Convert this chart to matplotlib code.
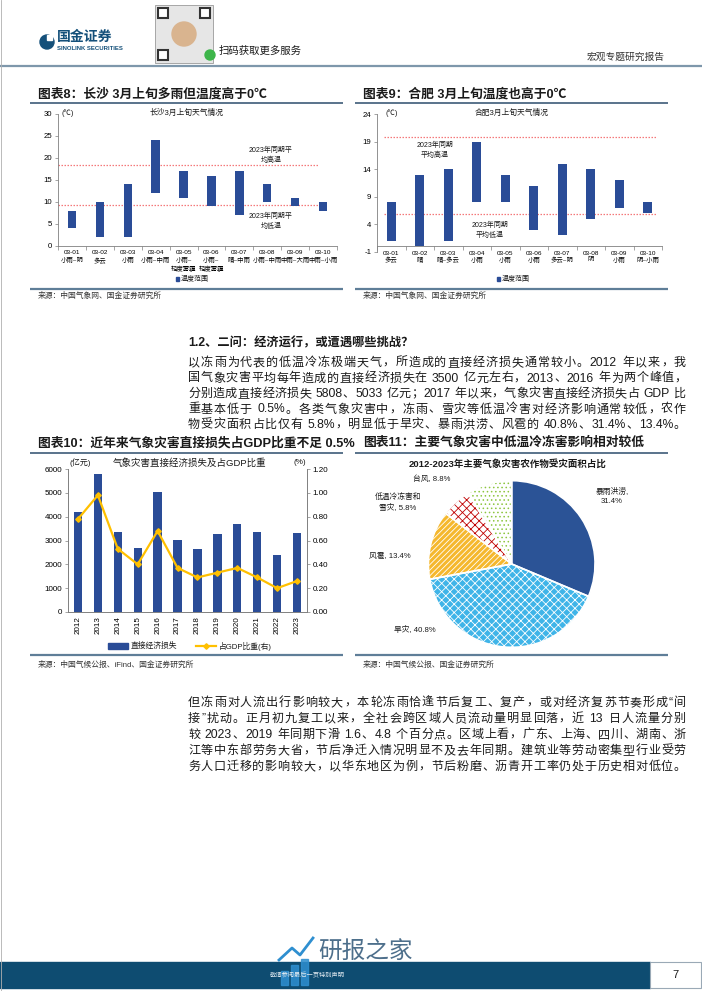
import re
import numpy as np
import matplotlib
matplotlib.use('Agg')
import matplotlib.pyplot as plt
from matplotlib.patches import Rectangle, Circle

plt.rcParams['font.family'] = ['Liberation Sans', 'Noto Sans CJK SC']
plt.rcParams['hatch.linewidth'] = 0.6
plt.rcParams['axes.unicode_minus'] = False

# ---------------- 数据 ----------------
dates = ['03-01', '03-02', '03-03', '03-04', '03-05', '03-06', '03-07', '03-08', '03-09', '03-10']

cs_weather = ['小雨~阴', '多云', '小雨', '小雨~中雨', '小雨~\n轻度雾霾', '小雨~\n轻度雾霾',
              '晴~中雨', '小雨~中雨', '中雨~大雨', '中雨~小雨']
cs_low = [4, 2, 2, 12, 11, 9, 7, 10, 9, 8]
cs_high = [8, 10, 14, 24, 17, 16, 17, 14, 11, 10]
cs_avg_high = 18.4
cs_avg_low = 9.3

hf_weather = ['多云', '晴', '晴~多云', '小雨', '小雨', '小雨', '多云~阴', '阴', '小雨', '阴~小雨']
hf_low = [1, 0, 1, 8, 8, 3, 2, 5, 7, 6]
hf_high = [8, 13, 14, 19, 13, 11, 15, 14, 12, 8]
hf_avg_high = 19.9
hf_avg_low = 5.8

years = ['2012', '2013', '2014', '2015', '2016', '2017', '2018', '2019', '2020', '2021', '2022', '2023']
loss = [4185, 5808, 3374, 2700, 5033, 3020, 2645, 3270, 3700, 3340, 2380, 3300]
gdp_ratio = [0.78, 0.98, 0.53, 0.40, 0.68, 0.37, 0.29, 0.33, 0.37, 0.29, 0.20, 0.26]

pie_names = ['暴雨洪涝', '旱灾', '风雹', '低温冷冻害和雪灾', '台风']
pie_share = [31.4, 40.8, 13.4, 5.8, 8.8]

para1 = [
    '以冻雨为代表的低温冷冻极端天气，所造成的直接经济损失通常较小。2012 年以来，我',
    '国气象灾害平均每年造成的直接经济损失在 3500 亿元左右，2013、2016 年为两个峰值，',
    '分别造成直接经济损失 5808、5033 亿元；2017 年以来，气象灾害直接经济损失占 GDP 比',
    '重基本低于 0.5%。各类气象灾害中，冻雨、雪灾等低温冷害对经济影响通常较低，农作',
    '物受灾面积占比仅有 5.8%，明显低于旱灾、暴雨洪涝、风雹的 40.8%、31.4%、13.4%。',
]
para2 = [
    '但冻雨对人流出行影响较大，本轮冻雨恰逢节后复工、复产，或对经济复苏节奏形成“间',
    '接”扰动。正月初九复工以来，全社会跨区域人员流动量明显回落，近 13 日人流量分别',
    '较 2023、2019 年同期下滑 1.6、4.8 个百分点。区域上看，广东、上海、四川、湖南、浙',
    '江等中东部劳务大省，节后净迁入情况明显不及去年同期。建筑业等劳动密集型行业受劳',
    '务人口迁移的影响较大，以华东地区为例，节后粉磨、沥青开工率仍处于历史相对低位。',
]

BAR = '#2A4C97'
TXT = '#1a1a1a'
LINE = '#3D5B78'
GRAY = '#808080'

W, H = 702, 991
fig = plt.figure(figsize=(W / 100, H / 100), dpi=100)


def px_axes(x0, y0, x1, y1):
    return fig.add_axes([x0 / W, 1 - y1 / H, (x1 - x0) / W, (y1 - y0) / H])


# 覆盖整页的坐标层，单位为像素
bg = fig.add_axes([0, 0, 1, 1], zorder=10)
bg.set_xlim(0, W)
bg.set_ylim(H, 0)
bg.axis('off')


def hline(y, x0, x1, color=LINE, lw=1.2):
    bg.plot([x0, x1], [y, y], color=color, lw=lw, solid_capstyle='butt')


def justify(y, s, x0, x1, size, weight='normal'):
    toks = re.findall(r'[A-Za-z0-9.%]+| |.', s)
    r = fig.canvas.get_renderer()
    items = []
    for t in toks:
        if t == ' ':
            items.append((None, size * 0.3 * 100 / 72))
        else:
            o = bg.text(0, y, t, fontsize=size, fontweight=weight, va='center', ha='left', color=TXT)
            items.append((o, o.get_window_extent(r).width))
    total = sum(w for _, w in items)
    gap = (x1 - x0 - total) / (len(items) - 1)
    x = x0
    for o, w in items:
        if o is not None:
            o.set_x(x)
        x += w + gap


# ---------------- 页眉 ----------------
bg.add_patch(Circle((47, 42), 7, color='#14507A'))
bg.add_patch(Rectangle((47, 35), 5, 5, color='white'))
bg.text(57, 37, '国金证券', fontsize=10, fontweight='bold', color='#14507A', va='center')
bg.text(57, 48.5, 'SINOLINK SECURITIES', fontsize=4.3, fontweight='bold', color='#14507A', va='center')
bg.add_patch(Rectangle((155, 5), 58, 58, facecolor='#e6e6e6', edgecolor='#9a9a9a', lw=0.6))
for qx, qy in [(158, 8), (200, 8), (158, 50)]:
    bg.add_patch(Rectangle((qx, qy), 10, 10, facecolor='white', edgecolor='#333', lw=1.5))
bg.add_patch(Circle((184, 34), 12, color='#D9B48F'))
bg.add_patch(Circle((210, 55), 5, color='#3DB54A'))
bg.text(219, 51, '扫码获取更多服务', fontsize=7.5, color=TXT, va='center')
bg.text(665, 57, '宏观专题研究报告', fontsize=7, color='#333', va='center', ha='right')
hline(66, 0, W, color='#7E97AB', lw=1.6)


# ---------------- 图表8 / 图表9 ----------------
def temp_chart(box, lows, highs, weather, ylim, yticks, avg_hi, avg_lo, span, cross_zero=False):
    ax = px_axes(*box)
    pos = np.arange(len(dates))
    lows = np.array(lows)
    highs = np.array(highs)
    ax.bar(pos, highs - lows, bottom=lows, width=0.3, color=BAR, zorder=3)
    for v in (avg_hi, avg_lo):
        ax.plot(span, [v, v], color='#F4787A', lw=0.9, ls=(0, (1.2, 1.2)), zorder=2)
    ax.set_xlim(-0.5, len(dates) - 0.5)
    ax.set_ylim(*ylim)
    ax.set_yticks(yticks)
    ax.tick_params(axis='y', labelsize=5.6, length=2, width=0.5, color=GRAY, pad=2)
    ax.set_xticks(np.arange(-0.5, len(dates)), labels=[''] * (len(dates) + 1))
    ax.set_xticks(pos, labels=[d + '\n' + w for d, w in zip(dates, weather)], minor=True)
    for t in ax.get_xticklabels(minor=True):
        t.set_linespacing(1.4)
    ax.tick_params(axis='x', which='minor', length=0, labelsize=4.6, pad=3)
    ax.tick_params(axis='x', which='major', length=3, width=0.5, color=GRAY)
    for s in ('top', 'right'):
        ax.spines[s].set_visible(False)
    for s in ('left', 'bottom'):
        ax.spines[s].set_color(GRAY)
        ax.spines[s].set_linewidth(0.6)
    if cross_zero:
        ax.spines['bottom'].set_position(('data', 0))
    ax.set_facecolor('none')
    return ax


temp_chart((58, 114, 337, 246), cs_low, cs_high, cs_weather, (0, 30), range(0, 31, 5),
           cs_avg_high, cs_avg_low, (-0.5, 8.85))
temp_chart((377, 114, 662, 252), hf_low, hf_high, hf_weather, (-1, 24), range(-1, 25, 5),
           hf_avg_high, hf_avg_low, (-0.25, 9.3), cross_zero=True)

bg.text(38, 94, '图表8：长沙 3月上旬多雨但温度高于0℃', fontsize=9.2, fontweight='bold', color=TXT, va='center')
bg.text(363, 94, '图表9：合肥 3月上旬温度也高于0℃', fontsize=9.2, fontweight='bold', color=TXT, va='center')
hline(103, 30, 343)
hline(103, 355, 668)

bg.text(187, 113, '长沙3月上旬天气情况', fontsize=5.6, color=TXT, ha='center', va='center')
bg.text(512, 113, '合肥3月上旬天气情况', fontsize=5.6, color=TXT, ha='center', va='center')
bg.text(62, 113, '(℃)', fontsize=5.3, color=TXT, va='center')
bg.text(386, 113, '(℃)', fontsize=5.3, color=TXT, va='center')
bg.text(271, 155, '2023年同期平\n均高温', fontsize=5, color=TXT, ha='center', va='center', linespacing=1.5)
bg.text(271, 221, '2023年同期平\n均低温', fontsize=5, color=TXT, ha='center', va='center', linespacing=1.5)
bg.text(435, 150, '2023年同期\n平均高温', fontsize=5, color=TXT, ha='center', va='center', linespacing=1.5)
bg.text(490, 230, '2023年同期\n平均低温', fontsize=5, color=TXT, ha='center', va='center', linespacing=1.5)

for lx in (176, 497):
    bg.add_patch(Rectangle((lx, 277), 3.2, 4, color=BAR))
    bg.text(lx + 5, 279, '温度范围', fontsize=5, color=TXT, va='center')

hline(288.5, 30, 343, color='#5F7E98', lw=1.6)
hline(288.5, 355, 668, color='#5F7E98', lw=1.6)
bg.text(38, 296, '来源：中国气象网、国金证券研究所', fontsize=5.6, color='#333', va='center')
bg.text(363, 296, '来源：中国气象网、国金证券研究所', fontsize=5.6, color='#333', va='center')

# ---------------- 正文一 ----------------
bg.text(188, 343, '1.2、二问：经济运行，或遭遇哪些挑战？', fontsize=8.8, fontweight='bold', color=TXT, va='center')
for i, s in enumerate(para1):
    justify(363 + i * 15.5, s, 188, 686, 8.7)

# ---------------- 图表10 ----------------
bg.text(38, 443, '图表10：近年来气象灾害直接损失占GDP比重不足 0.5%', fontsize=9.2, fontweight='bold', color=TXT, va='center')
bg.text(363, 443, '图表11：主要气象灾害中低温冷冻害影响相对较低', fontsize=9.2, fontweight='bold', color=TXT, va='center')
hline(453, 30, 343)
hline(453, 355, 668)

ax = px_axes(68, 469, 307, 612)
idx = np.arange(len(years))
ax.bar(idx, loss, width=0.42, color=BAR, zorder=3)
ax.set_xlim(-0.5, len(years) - 0.5)
ax.set_ylim(0, 6000)
ax.set_yticks(range(0, 6001, 1000))
ax.set_xticks(idx, labels=years, rotation=90)
ax.tick_params(axis='x', labelsize=5.8, length=0, pad=3)
ax.tick_params(axis='y', labelsize=5.8, length=2, width=0.5, color=GRAY, pad=2)
ax.set_facecolor('none')
ax2 = ax.twinx()
ax2.plot(idx, gdp_ratio, color='#FFC000', lw=1.6, marker='D', ms=2.8, zorder=4)
ax2.set_ylim(0, 1.2)
ax2.set_yticks(np.arange(0, 1.21, 0.2))
ax2.set_yticklabels(['%.2f' % v for v in np.arange(0, 1.21, 0.2)])
ax2.tick_params(axis='y', labelsize=5.8, length=2, width=0.5, color=GRAY, pad=2)
for a in (ax, ax2):
    a.spines['top'].set_visible(False)
    for s in ('left', 'right', 'bottom'):
        a.spines[s].set_color(GRAY)
        a.spines[s].set_linewidth(0.6)

bg.text(190, 463, '气象灾害直接经济损失及占GDP比重', fontsize=6.8, color=TXT, ha='center', va='center')
bg.text(70, 463, '(亿元)', fontsize=5.8, color=TXT, va='center')
bg.text(293, 463, '(%)', fontsize=5.8, color=TXT, va='center')
bg.add_patch(Rectangle((108, 643), 20, 6, color=BAR))
bg.text(131, 646, '直接经济损失', fontsize=5.6, color=TXT, va='center')
bg.plot([196, 216], [646, 646], color='#FFC000', lw=1.6)
bg.plot([206], [646], color='#FFC000', marker='D', ms=2.8)
bg.text(219, 646, '占GDP比重(右)', fontsize=5.6, color=TXT, va='center')

# ---------------- 图表11 ----------------
pax = px_axes(426.7, 479, 596.7, 649)
faces = ['#2B5396', '#3FB4E8', '#F5B82E', 'white', 'white']
hatches = [None, 'xxxx', '//////', 'xxxx', '....']
hatch_cols = ['#2B5396', 'white', 'white', '#C00000', '#8DC63F']
wedges, _ = pax.pie(pie_share, startangle=90, counterclock=False, colors=faces, radius=1,
                    wedgeprops=dict(lw=0))
for w, h, hc in zip(wedges, hatches, hatch_cols):
    if h:
        w.set_hatch(h)
    w.set_edgecolor(hc)
    w.set_linewidth(0)
pax.pie(pie_share, startangle=90, counterclock=False, radius=1,
        wedgeprops=dict(fill=False, edgecolor='white', lw=1.2))
pax.set_xlim(-1.02, 1.02)
pax.set_ylim(-1.02, 1.02)
pax.set_aspect('equal')
pax.axis('off')

bg.text(508, 464, '2012-2023年主要气象灾害农作物受灾面积占比', fontsize=6.8, fontweight='bold', color=TXT, ha='center', va='center')
lab_pos = [(612, 496), (415, 630), (390, 556), (398, 502.5), (432, 479)]
for (lx, ly), n, v in zip(lab_pos, pie_names, pie_share):
    if n == '暴雨洪涝':
        t = '%s,\n%.1f%%' % (n, v)
    elif n == '低温冷冻害和雪灾':
        t = '低温冷冻害和\n雪灾, %.1f%%' % v
    else:
        t = '%s, %.1f%%' % (n, v)
    bg.text(lx, ly, t, fontsize=5.6, color=TXT, ha='center', va='center', linespacing=1.4)

hline(655, 30, 343, color='#5F7E98', lw=1.6)
hline(655, 355, 668, color='#5F7E98', lw=1.6)
bg.text(38, 665, '来源：中国气候公报、iFind、国金证券研究所', fontsize=5.6, color='#333', va='center')
bg.text(363, 665, '来源：中国气候公报、国金证券研究所', fontsize=5.6, color='#333', va='center')

# ---------------- 正文二 ----------------
for i, s in enumerate(para2):
    justify(703 + i * 16, s, 188, 686, 8.7)

# ---------------- 页脚 ----------------
bg.add_patch(Rectangle((0, 962), 650, 26, color='#0E4C71'))
bg.add_patch(Rectangle((650, 962), 51, 26, facecolor='white', edgecolor='#9aa9b6', lw=0.8))
bg.text(675, 975, '7', fontsize=8, color=TXT, ha='center', va='center')
bg.text(270, 975, '敬请参阅最后一页特别声明', fontsize=4.5, color='#dfe8ef', va='center')
for bx, bh in [(281, 14), (291, 20), (301, 26)]:
    bg.add_patch(Rectangle((bx, 985 - bh), 7, bh, color='#2F8FD0', alpha=0.85))
bg.plot([279, 292, 300, 313], [960, 948, 955, 938], color='#2F8FD0', lw=2)
bg.text(318, 952, '研报之家', fontsize=17, color='#3A5F7F', va='center', alpha=0.9)
bg.plot([0.5, 0.5], [0, H], color='#b0b0b0', lw=0.6)
bg.plot([701.5, 701.5], [0, H], color='#b0b0b0', lw=0.6)

fig.savefig('out.png', dpi=100, facecolor='white')
